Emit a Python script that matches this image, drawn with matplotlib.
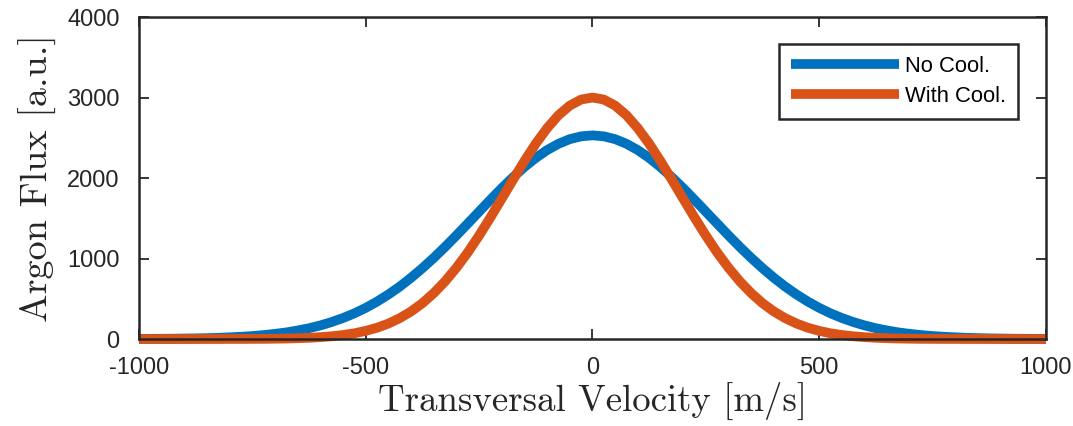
import matplotlib
matplotlib.use("Agg")
import matplotlib.pyplot as plt

# Transversal velocity [m/s], sampled every 25 m/s
velocity = list(range(-1000, 1001, 25))

# Right half (0..1000 m/s); curves are symmetric
no_cool_half = [2530, 2518, 2483, 2425, 2347, 2250, 2137, 2010, 1874, 1730,
                1582, 1434, 1287, 1144, 1008, 880, 761, 651, 553, 465,
                387, 319, 261, 211, 169, 134, 106, 82, 64, 49,
                37, 28, 21, 15, 11, 8, 6, 4, 3, 2, 1]
with_cool_half = [3000, 2975, 2900, 2780, 2619, 2427, 2211, 1980, 1744, 1510,
                  1285, 1075, 885, 716, 570, 445, 342, 259, 192, 140,
                  101, 71, 50, 34, 23, 15, 10, 6, 4, 2,
                  1.5, 1, 1, 0, 0, 0, 0, 0, 0, 0, 0]

no_cool = no_cool_half[:0:-1] + no_cool_half
with_cool = with_cool_half[:0:-1] + with_cool_half

series_labels = ["No Cool.", "With Cool."]
x_ticks = [-1000, -500, 0, 500, 1000]
y_ticks = [0, 1000, 2000, 3000, 4000]

fig = plt.figure(figsize=(10.73, 4.26), dpi=100)
ax = fig.add_axes([0.1295, 0.2042, 0.8453, 0.7558])

ax.plot(velocity, no_cool, color="#0072BD", lw=7, label=series_labels[0],
        solid_capstyle="butt", clip_on=False)
ax.plot(velocity, with_cool, color="#D95319", lw=7, label=series_labels[1],
        solid_capstyle="butt", clip_on=False)

ax.set_xlim(-1000, 1000)
ax.set_ylim(0, 4000)
ax.set_xticks(x_ticks)
ax.set_yticks(y_ticks)
ax.set_xticklabels([str(t) for t in x_ticks])
ax.set_yticklabels([str(t) for t in y_ticks])

for sp in ax.spines.values():
    sp.set_color("#262626")
    sp.set_linewidth(1.8)
    sp.set_zorder(3)

ax.tick_params(axis="both", direction="in", length=7, width=1.3,
               colors="#262626", labelsize=17, top=True, right=True)
ax.tick_params(axis="y", pad=14)
ax.tick_params(axis="x", pad=13)
for lab in ax.get_xticklabels() + ax.get_yticklabels():
    lab.set_fontfamily("Liberation Sans")

serif = ["cmr10", "DejaVu Serif"]
ax.set_xlabel("Transversal Velocity [m/s]", fontsize=26.5, family=serif,
              color="#262626", labelpad=2)
ax.set_ylabel("Argon Flux [a.u.]", fontsize=27.5, family=serif,
              color="#262626", labelpad=7)

leg = ax.legend(loc="upper right", bbox_to_anchor=(0.969, 0.916),
                prop={"family": "Liberation Sans", "size": 15.8},
                frameon=True, fancybox=False, handlelength=4.9,
                handletextpad=0.28, borderpad=0.55, labelspacing=0.4,
                borderaxespad=0.0)
leg.get_frame().set_edgecolor("#262626")
leg.get_frame().set_linewidth(1.8)
leg.get_frame().set_alpha(1)

fig.savefig("out.png", dpi=100)
